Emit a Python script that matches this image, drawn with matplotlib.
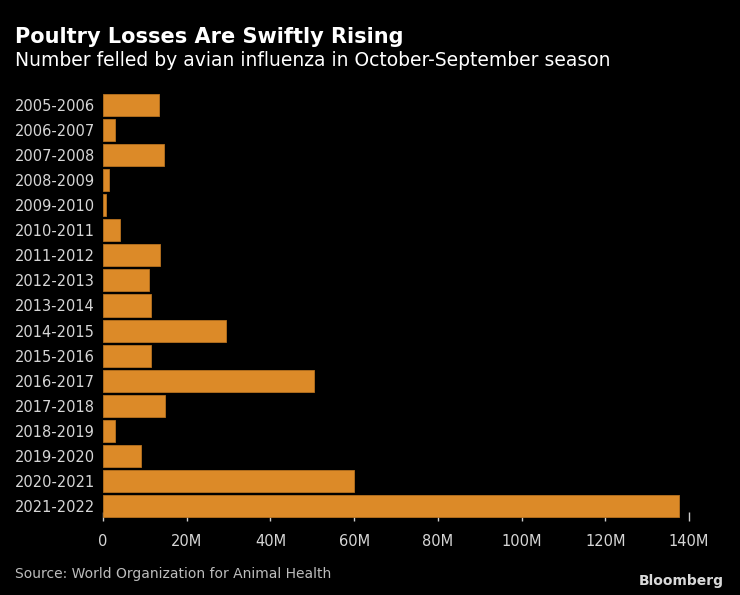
import numpy as np
import matplotlib as mpl
mpl.use("Agg")
import matplotlib.pyplot as plt
from matplotlib.ticker import FuncFormatter

seasons = [
    "2005-2006", "2006-2007", "2007-2008", "2008-2009", "2009-2010",
    "2010-2011", "2011-2012", "2012-2013", "2013-2014", "2014-2015",
    "2015-2016", "2016-2017", "2017-2018", "2018-2019", "2019-2020",
    "2020-2021", "2021-2022",
]
# birds felled, millions
felled_m = [13.4, 2.8, 14.5, 1.35, 0.8, 4.05, 13.6, 10.9, 11.5, 29.4,
            11.5, 50.4, 14.7, 2.8, 9.0, 60.0, 137.6]
xticks_m = [0, 20, 40, 60, 80, 100, 120, 140]

BG = "black"
BAR = "#dc8a28"
TXT = "#d6d6d6"

mpl.rcParams.update({
    "font.family": ["DejaVu Sans"],
    "figure.facecolor": BG,
    "axes.facecolor": BG,
})

fig = plt.figure(figsize=(7.4, 5.95), dpi=100)
ax = fig.add_axes([103 / 740, 1 - 521 / 595, 586 / 740, 430 / 595])

y = np.arange(len(seasons))
vals = np.array(felled_m) * 1e6
ax.barh(y, vals, height=0.88, color=BAR, edgecolor="#b8721f", linewidth=0.6, zorder=2)

ax.set_ylim(len(seasons) - 0.4, -0.56)
ax.set_xlim(0, 140e6)
ax.set_yticks(y)
ax.set_yticklabels(seasons)
ax.set_xticks([v * 1e6 for v in xticks_m])
ax.xaxis.set_major_formatter(FuncFormatter(lambda v, p: "0" if v == 0 else f"{v / 1e6:.0f}M"))

for s in ax.spines.values():
    s.set_visible(False)
ax.set_axisbelow(True)
ax.tick_params(axis="y", length=0, pad=6, labelsize=10.5, labelcolor=TXT)
ax.tick_params(axis="x", direction="in", length=6.5, width=1.0, color="#cccccc",
               pad=9, labelsize=10.5, labelcolor=TXT)

fig.text(15 / 740, 1 - 43 / 595, "Poultry Losses Are Swiftly Rising",
         color="white", fontsize=15, fontweight="bold", va="baseline")
fig.text(15 / 740, 1 - 66 / 595, "Number felled by avian influenza in October-September season",
         color="white", fontsize=13.5, va="baseline")
fig.text(15 / 740, 1 - 578 / 595, "Source: World Organization for Animal Health",
         color="#bdbdbd", fontsize=10, va="baseline")
fig.text(724 / 740, 1 - 585 / 595, "Bloomberg",
         color="#d9d9d9", fontsize=10, fontweight="bold", va="baseline", ha="right")

fig.savefig("out.png", dpi=100, facecolor=BG)
